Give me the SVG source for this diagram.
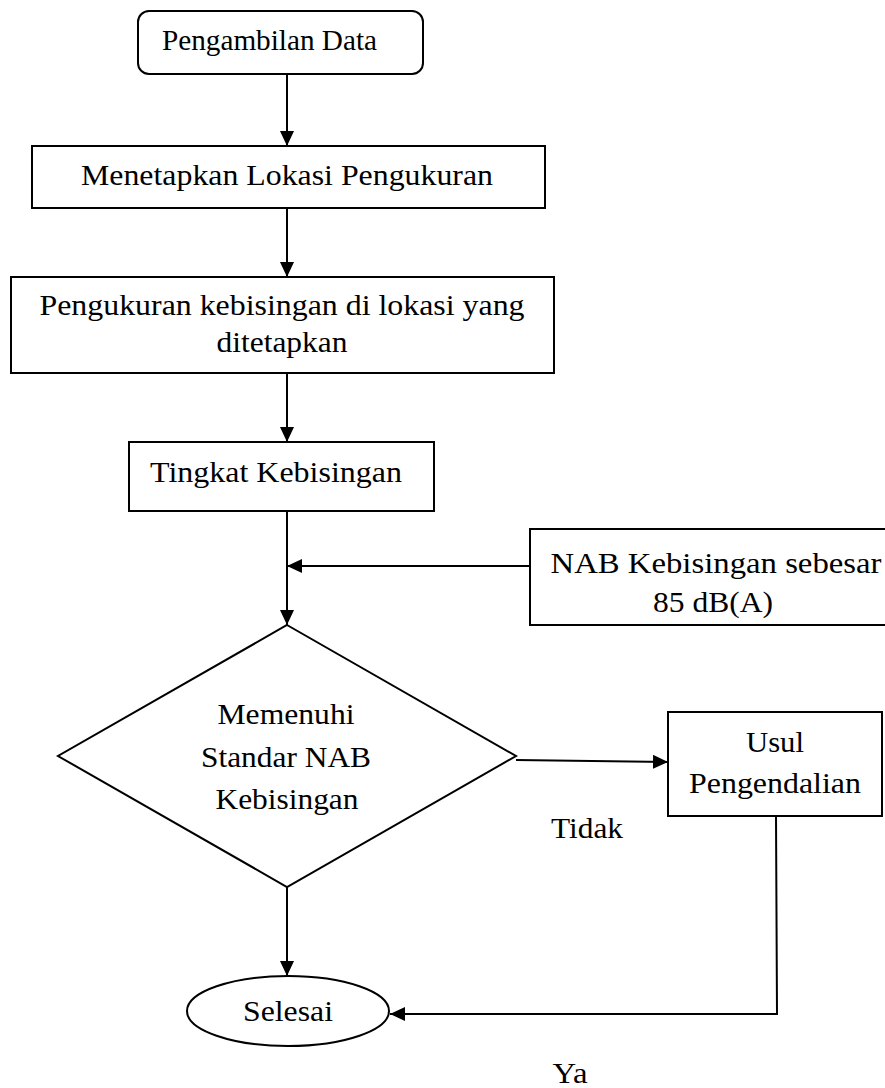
<svg xmlns="http://www.w3.org/2000/svg" width="885" height="1088" viewBox="0 0 885 1088">
<defs>
<marker id="ah" markerWidth="15" markerHeight="14" refX="15" refY="7" orient="auto" markerUnits="userSpaceOnUse">
<path d="M0,0 L15,7 L0,14 Z" fill="#000"/>
</marker>
<style>
.box{fill:#fff;stroke:#000;stroke-width:2}
.t{font-family:"Liberation Serif","Times New Roman",serif;font-size:29px;fill:#000}
.c{text-anchor:middle}
.ln{fill:none;stroke:#000;stroke-width:2}
</style>
</defs>
<rect width="885" height="1088" fill="#fff"/>
<g id="connectors">
<line class="ln" x1="287" y1="74" x2="287" y2="146" marker-end="url(#ah)"/>
<line class="ln" x1="287" y1="208" x2="287" y2="277" marker-end="url(#ah)"/>
<line class="ln" x1="287" y1="373" x2="287" y2="442" marker-end="url(#ah)"/>
<line class="ln" x1="287" y1="511" x2="287" y2="625" marker-end="url(#ah)"/>
<line class="ln" x1="530" y1="566" x2="287" y2="566" marker-end="url(#ah)"/>
<line class="ln" x1="516" y1="760" x2="668" y2="762" marker-end="url(#ah)"/>
<line class="ln" x1="287" y1="887" x2="287" y2="976" marker-end="url(#ah)"/>
<polyline class="ln" points="776,816 777,1014 390,1014" marker-end="url(#ah)"/>
</g>
<g id="start">
<rect class="box" x="138" y="11" width="285" height="63" rx="11"/>
<text class="t" x="162" y="50" textLength="215" lengthAdjust="spacingAndGlyphs">Pengambilan Data</text>
</g>
<g id="lokasi">
<rect class="box" x="32" y="146" width="513" height="62"/>
<text class="t c" x="287" y="185" textLength="412" lengthAdjust="spacingAndGlyphs">Menetapkan Lokasi Pengukuran</text>
</g>
<g id="pengukuran">
<rect class="box" x="11" y="277" width="543" height="96"/>
<text class="t c" x="282" y="315" textLength="485" lengthAdjust="spacingAndGlyphs">Pengukuran kebisingan di lokasi yang</text>
<text class="t c" x="282" y="352" textLength="131" lengthAdjust="spacingAndGlyphs">ditetapkan</text>
</g>
<g id="tingkat">
<rect class="box" x="129" y="442" width="305" height="69"/>
<text class="t c" x="276" y="482" textLength="252" lengthAdjust="spacingAndGlyphs">Tingkat Kebisingan</text>
</g>
<g id="nab">
<rect class="box" x="530" y="529" width="370" height="96"/>
<text class="t c" x="716" y="573" textLength="331" lengthAdjust="spacingAndGlyphs">NAB Kebisingan sebesar</text>
<text class="t c" x="713" y="612" textLength="120" lengthAdjust="spacingAndGlyphs">85 dB(A)</text>
</g>
<g id="decision">
<polygon class="box" points="287,625 516,756 287,887 58,756"/>
<text class="t c" x="286" y="724" textLength="137" lengthAdjust="spacingAndGlyphs">Memenuhi</text>
<text class="t c" x="286" y="767" textLength="170" lengthAdjust="spacingAndGlyphs">Standar NAB</text>
<text class="t c" x="287" y="809" textLength="143" lengthAdjust="spacingAndGlyphs">Kebisingan</text>
</g>
<g id="usul">
<rect class="box" x="668" y="712" width="214" height="104"/>
<text class="t c" x="775" y="752" textLength="58" lengthAdjust="spacingAndGlyphs">Usul</text>
<text class="t c" x="775" y="793" textLength="172" lengthAdjust="spacingAndGlyphs">Pengendalian</text>
</g>
<g id="selesai">
<ellipse class="box" cx="288" cy="1011" rx="101" ry="35"/>
<text class="t c" x="288" y="1021" textLength="90" lengthAdjust="spacingAndGlyphs">Selesai</text>
</g>
<g id="labels">
<text class="t c" x="587" y="838" textLength="72" lengthAdjust="spacingAndGlyphs">Tidak</text>
<text class="t c" x="570" y="1083" textLength="35" lengthAdjust="spacingAndGlyphs">Ya</text>
</g>
</svg>
